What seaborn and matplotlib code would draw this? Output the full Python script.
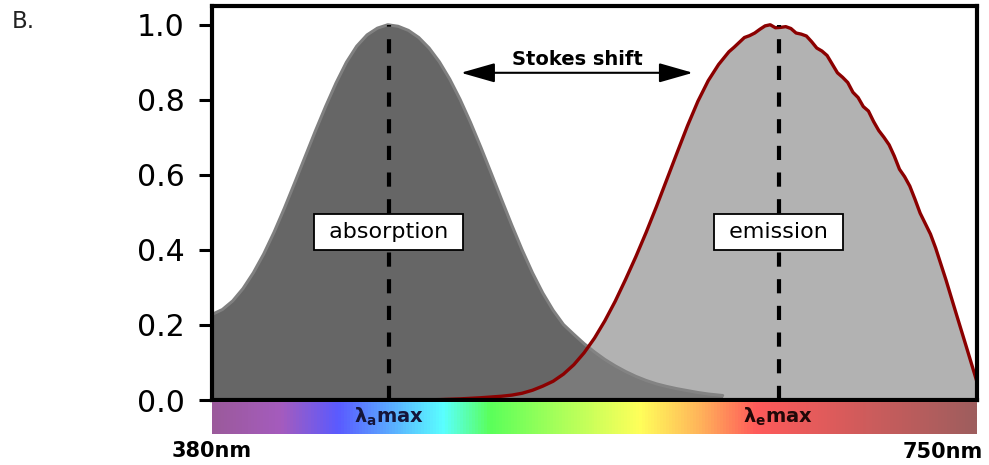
import numpy as np
import pandas as pd
import matplotlib
matplotlib.use("Agg")
import matplotlib.pyplot as plt
import seaborn as sns
from matplotlib.colors import LinearSegmentedColormap

# ---------------- data ----------------
abs_nm = [380, 385, 390, 395, 400, 405, 410, 415, 420, 425, 430, 435, 440, 445,
          450, 455, 460, 465, 470, 475, 480, 485, 490, 495, 500, 505, 510, 515,
          520, 525, 530, 535, 540, 545, 550, 555, 560, 565, 570, 575, 580, 585,
          590, 595, 600, 605, 610, 615, 620, 627]
abs_val = [0.228, 0.241, 0.264, 0.297, 0.339, 0.389, 0.447, 0.511, 0.579, 0.648,
           0.717, 0.783, 0.845, 0.900, 0.943, 0.973, 0.991, 1.000, 0.996, 0.985,
           0.966, 0.938, 0.901, 0.855, 0.801, 0.740, 0.674, 0.605, 0.535, 0.466,
           0.400, 0.339, 0.285, 0.239, 0.201, 0.175, 0.150, 0.128, 0.108, 0.091,
           0.076, 0.063, 0.052, 0.043, 0.036, 0.030, 0.025, 0.020, 0.016, 0.012]

em_nm = [478, 490, 500, 510, 520, 525, 530, 535, 540, 545, 550, 555, 560, 565,
         570, 575, 580, 585, 590, 595, 600, 605, 610, 615, 620, 625,
         630, 632.5, 635, 637.5, 640, 642.5, 645, 647.5, 650, 652.5, 655, 657.5,
         660, 662.5, 665, 667.5, 670, 672.5, 675, 677.5, 680, 682.5, 685, 687.5,
         690, 692.5, 695, 697.5, 700, 702.5, 705, 707.5, 710, 712.5, 715, 717.5,
         720, 722.5, 725, 727.5, 730, 735, 740, 745, 750]
em_val = [0.000, 0.001, 0.003, 0.006, 0.010, 0.013, 0.018, 0.026, 0.037, 0.050,
          0.069, 0.094, 0.126, 0.165, 0.211, 0.263, 0.321, 0.382, 0.447, 0.516,
          0.588, 0.660, 0.731, 0.796, 0.851, 0.894,
          0.928, 0.940, 0.953, 0.966, 0.971, 0.978, 0.988, 0.997, 1.000, 0.992,
          0.993, 0.995, 0.990, 0.978, 0.975, 0.970, 0.955, 0.938, 0.930, 0.918,
          0.895, 0.872, 0.860, 0.846, 0.820, 0.806, 0.782, 0.770, 0.742, 0.718,
          0.700, 0.680, 0.650, 0.615, 0.595, 0.570, 0.535, 0.498, 0.470, 0.442,
          0.405, 0.320, 0.229, 0.139, 0.048]

peak_nm = [465.5, 654.0]            # lambda_a max, lambda_e max
box_labels = ["absorption", "emission"]
box_y = 0.448
stokes_start, stokes_end, stokes_y = 500.4, 612.6, 0.872
stokes_label = "Stokes shift"
yticks = [0.0, 0.2, 0.4, 0.6, 0.8, 1.0]
ytick_labels = ["0.0", "0.2", "0.4", "0.6", "0.8", "1.0"]
wl_labels = ["380nm", "750nm"]
lambda_labels = [r"$\mathbf{λ_{a}max}$", r"$\mathbf{λ_{e}max}$"]
spectrum_pos = [0.0, 0.089, 0.163, 0.302, 0.363, 0.455, 0.56, 0.638, 0.712, 1.0]
spectrum_cols = ["#9b5a9b", "#a55cbe", "#5a5aff", "#5affff", "#5aff5a",
                 "#aaff5a", "#ffff5a", "#ffb45a", "#ff5a5a", "#9e5e5e"]

# ---------------- figure ----------------
sns.set_theme(style="white")
plt.rcParams["font.family"] = ["DejaVu Sans"]
plt.rcParams["mathtext.fontset"] = "dejavusans"

W, H = 989, 465
fig = plt.figure(figsize=(W / 100, H / 100), dpi=100)
ax = fig.add_axes([212 / W, 65 / H, 765 / W, 394 / H])
ax.set_xlim(380, 750)
ax.set_ylim(0, 1.05)

abs_df = pd.DataFrame({"nm": abs_nm, "val": abs_val})
em_df = pd.DataFrame({"nm": em_nm, "val": em_val})

ax.fill_between(abs_df["nm"], abs_df["val"], 0, color="#666666", lw=0, zorder=1.0)
sns.lineplot(data=abs_df, x="nm", y="val", color="#808080", lw=2.2, ax=ax, zorder=1.2)
ax.fill_between(em_df["nm"], em_df["val"], 0, color="#868686", alpha=0.63, lw=0, zorder=1.4)
sns.lineplot(data=em_df, x="nm", y="val", color="#8b0000", lw=2.4, ax=ax, zorder=1.6)

ax.vlines(peak_nm, 0, 1.0, colors="black", lw=3.0, linestyles=(0, (3.4, 3.0)), zorder=1.8)

for xp, lab in zip(peak_nm, box_labels):
    ax.text(xp, box_y, " " + lab + " ", ha="center", va="center", fontsize=16,
            color="black", zorder=5,
            bbox=dict(boxstyle="square,pad=0.36", fc="white", ec="black", lw=1.3))

ax.annotate("", xy=(stokes_start, stokes_y), xytext=(stokes_end, stokes_y),
            arrowprops=dict(arrowstyle="<|-|>,head_length=1.05,head_width=0.3",
                            color="black", lw=1.5, mutation_scale=20,
                            shrinkA=0, shrinkB=0), zorder=5)
ax.text((stokes_start + stokes_end) / 2, 0.907, stokes_label, ha="center", va="center",
        fontsize=14, fontweight="bold", color="black")

ax.set_yticks(yticks)
ax.set_yticklabels(ytick_labels)
ax.set_xticks([])
ax.set_xlabel("")
ax.set_ylabel("")
ax.tick_params(axis="y", left=True, length=9.5, width=2.2, labelsize=21.5, pad=10,
               colors="black", direction="out")
for s in ax.spines.values():
    s.set_visible(True)
    s.set_linewidth(3.0)
    s.set_color("black")
    s.set_zorder(3)

# spectrum bar
bax = fig.add_axes([212 / W, 31 / H, 765 / W, 32 / H])
cmap = LinearSegmentedColormap.from_list("spec", list(zip(spectrum_pos, spectrum_cols)))
grad = np.linspace(0, 1, 765)[None, :]
bax.imshow(grad, aspect="auto", cmap=cmap, extent=[380, 750, 0, 1])
bax.set_xlim(380, 750)
bax.set_ylim(0, 1)
bax.axis("off")
bax.text(peak_nm[0], 0.55, lambda_labels[0], ha="center", va="center", fontsize=14,
         color="#15153a")
bax.text(peak_nm[1], 0.55, lambda_labels[1], ha="center", va="center", fontsize=14,
         color="#200808")

fig.text(212 / W, 1 - 451 / H, wl_labels[0], ha="center", va="center", fontsize=15,
         fontweight="bold", color="black")
fig.text(943 / W, 1 - 452 / H, wl_labels[1], ha="center", va="center", fontsize=15,
         fontweight="bold", color="black")
fig.text(12 / W, 1 - 21 / H, "B.", ha="left", va="center", fontsize=16.5, color="#222222")

fig.savefig("out.png", dpi=100)
